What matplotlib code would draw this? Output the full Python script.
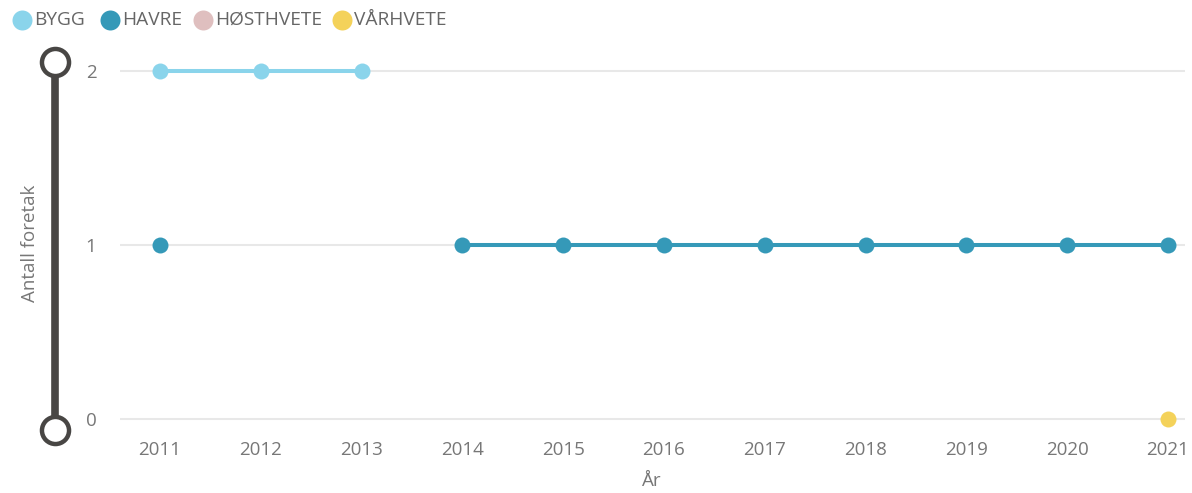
import numpy as np
import matplotlib
matplotlib.use("Agg")
import matplotlib.pyplot as plt
from matplotlib.lines import Line2D

plt.rcParams['font.family'] = ['Open Sans', 'DejaVu Sans']

years = [2011, 2012, 2013, 2014, 2015, 2016, 2017, 2018, 2019, 2020, 2021]
nan = np.nan
bygg = [2, 2, 2, nan, nan, nan, nan, nan, nan, nan, nan]
havre = [1, nan, nan, 1, 1, 1, 1, 1, 1, 1, 1]
hosthvete = [nan] * 11
varhvete = [nan] * 10 + [0]

series = [("BYGG", bygg, "#8AD4EB"),
          ("HAVRE", havre, "#3599B8"),
          ("HØSTHVETE", hosthvete, "#DFBFBF"),
          ("VÅRHVETE", varhvete, "#F4D25A")]

W, H = 1192, 493
fig = plt.figure(figsize=(W / 100, H / 100), dpi=100)

# axes placed in pixels
left, right, top, bottom = 120, 1185, 53.6, 436.4
ax = fig.add_axes([left / W, (H - bottom) / H, (right - left) / W, (bottom - top) / H])

for name, vals, col in series:
    ax.plot(years, vals, color=col, lw=2.9, marker='o', ms=11.5, mew=0, zorder=3)

ax.set_xlim(2010.603, 2021.17)
ax.set_ylim(-0.1, 2.1)
ax.set_yticks([0, 1, 2])
ax.set_xticks(years)
ax.grid(axis='y', color='#E8E8E8', lw=1.5)
ax.set_axisbelow(True)
for s in ax.spines.values():
    s.set_visible(False)
ax.tick_params(length=0, colors='#777777', labelsize=13.5)
ax.tick_params(axis='y', pad=17)
ax.tick_params(axis='x', pad=3)

fig.text(652 / W, 1 - 481 / H, "År", ha='center', va='center', color='#777777', fontsize=13.5)
fig.text(30 / W, 1 - 243 / H, "Antall foretak", ha='center', va='center', rotation=90,
         color='#777777', fontsize=13.5)

# zoom slider on the y axis
sx = 55 / W
y_top, y_bot = 1 - 62 / H, 1 - 430 / H
fig.add_artist(Line2D([sx, sx], [y_top, y_bot], transform=fig.transFigure,
                      color='#484644', lw=5.5, solid_capstyle='butt'))
fig.add_artist(Line2D([sx, sx], [y_top, y_bot], transform=fig.transFigure, ls='none',
                      marker='o', ms=19.5, mfc='white', mec='#484644', mew=3.2))

# legend, placed by hand
leg_x = [22, 110, 203, 342]
for (name, _, col), px in zip(series, leg_x):
    fig.add_artist(Line2D([px / W], [1 - 20 / H], transform=fig.transFigure, ls='none',
                          marker='o', ms=14.4, mew=0, color=col))
    fig.text((px + 12) / W, 1 - 20 / H, name, ha='left', va='center', color='#666666',
             fontsize=13.8)

fig.savefig("out.png", dpi=100)
